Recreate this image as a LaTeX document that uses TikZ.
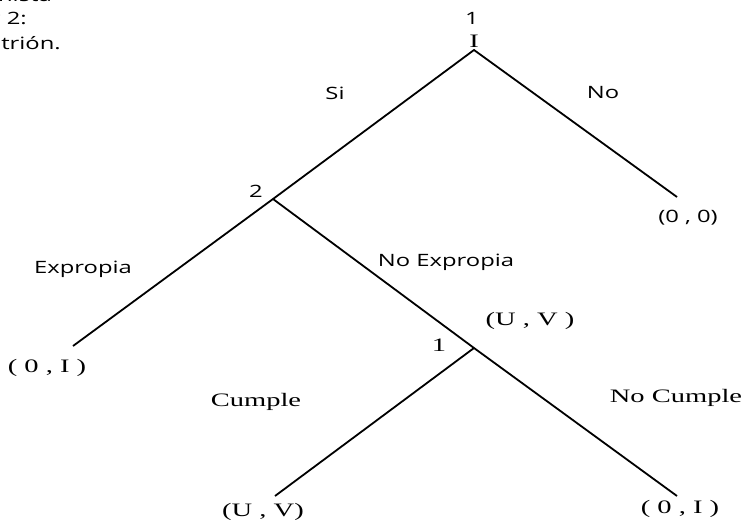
\documentclass[tikz,border=0pt]{standalone}
\usepackage{fontspec}
\setmainfont{Liberation Serif}
\setsansfont{Open Sans}
\usetikzlibrary{positioning}
\tikzstyle{every node}=[inner sep=0pt]
\tikzstyle{act}=[font=\sffamily\fontsize{17}{19}\selectfont, xscale=1.4]
\tikzstyle{pay}=[font=\rmfamily\fontsize{19}{21}\selectfont, xscale=1.5]

\begin{document}
\begin{tikzpicture}[x=1pt, y=-1pt, line width=1.8pt]
            \useasboundingbox (0,0) rectangle (743,522);
            \clip (0,0) rectangle (743,522);
            % decision points and ends
            \coordinate (root) at (474,50);
            \coordinate (d2) at (273,199);
            \coordinate (d1) at (474,348);
            \coordinate (nofin) at (677,197);
            \coordinate (expfin) at (73,346);
            \coordinate (cfin) at (275,496);
            \coordinate (ncfin) at (677,496);
            \draw (d2) -- (root) -- (nofin);
            \draw (expfin) -- (d2) -- (d1);
            \draw (cfin) -- (d1) -- (ncfin);
            % players
            \node[act] (pl1) at (472,18) {1};
            \node[pay] (inv) at (474,41) {I};
            \node[act] (pl2) at (256,191) {2};
            \node[pay] (pl1b) at (439,345) {1};
            % actions
            \node[act] (si) at (335,93) {Si};
            \node[act] (no) at (603,93) {No};
            \node[act] (exp) at (83,269) {Expropia};
            \node[act] (noexp) at (446,262) {No Expropia};
            \node[pay] (cum) at (256,402) {Cumple};
            \node[pay] (ncum) at (676,398) {No Cumple};
            % payoffs
            \node[act] (p00) at (688,218) {(0 , 0)};
            \node[pay] (p0I) at (47,368) {( 0 , I )};
            \node[pay] (pUV) at (530,321) {(U , V )};
            \node[pay] (pUVb) at (263,512) {(U , V)};
            \node[pay] (p0Ib) at (680,509) {( 0 , I )};
            % cut-off note
            \node[act, anchor=east] (t1) at (53,-3) {Jugador 1: Inversionista};
            \node[act, anchor=east] (t2) at (28,20) {Jugador 2:};
            \node[act, anchor=east] (t3) at (62,43) {Anfitrión.};
        \end{tikzpicture}
\end{document}
